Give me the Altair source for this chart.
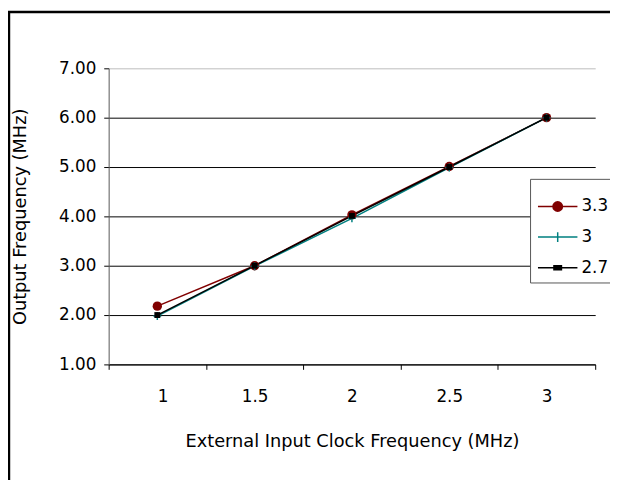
import altair as alt
import pandas as pd

# ---- data ----
x_vals = [1, 1.5, 2, 2.5, 3]
series_names = ["3.3", "3", "2.7"]
y_33 = [2.18, 3.00, 4.03, 5.01, 6.00]
y_30 = [1.98, 2.99, 3.96, 4.99, 6.00]
y_27 = [2.00, 3.00, 4.01, 5.00, 6.00]
series_colors = ["#800000", "#008080", "#000000"]
y_ticks = [1, 2, 3, 4, 5, 6, 7]
x_tick_bounds = [0.75, 1.25, 1.75, 2.25, 2.75, 3.25]

rows = []
for name, ys in zip(series_names, [y_33, y_30, y_27]):
    for xv, yv in zip(x_vals, ys):
        rows.append({"x": xv, "series": name, "y": yv})
df = pd.DataFrame(rows)

FONT = "DejaVu Sans"
FS = 17
TFS = 18
W, H = 493, 300

x_enc = alt.X(
    "x:Q",
    scale=alt.Scale(domain=[0.75, 3.25], nice=False, zero=False),
    axis=alt.Axis(
        values=x_tick_bounds,
        labelExpr="datum.value > 3.2 ? '' : '' + (datum.value + 0.25)",
        labelOffset=W / 10,
        grid=False,
        tickSize=5,
        labelPadding=28,
        labelBaseline="middle",
        labelFontSize=FS,
        labelFont=FONT,
        labelColor="black",
        domainColor="black",
        tickColor="black",
        title="External Input Clock Frequency (MHz)",
        titleFont=FONT,
        titleFontSize=TFS,
        titleFontWeight="normal",
        titleColor="black",
        titleX=W / 2,
        titleY=83,
        titleAlign="center",
        titleBaseline="alphabetic",
    ),
)
y_enc = alt.Y(
    "y:Q",
    scale=alt.Scale(domain=[1, 7], nice=False, zero=False),
    axis=alt.Axis(
        values=y_ticks,
        format=".2f",
        tickSize=5,
        labelPadding=8,
        labelFontSize=FS,
        labelFont=FONT,
        labelColor="black",
        domainColor="#555555",
        tickColor="black",
        grid=True,
        gridColor={"condition": {"test": "datum.value == 7", "value": "#bdbdbd"}, "value": "black"},
        gridOpacity=1,
        title="Output Frequency (MHz)",
        titleFont=FONT,
        titleFontSize=TFS,
        titleFontWeight="normal",
        titleColor="black",
        titleAngle=270,
        titleX=-89,
        titleY=H / 2,
        titleAlign="center",
        titleBaseline="middle",
    ),
)

base = alt.Chart(df)


def series_line(name, color):
    return base.transform_filter(alt.datum.series == name).mark_line(
        strokeWidth=1.5, color=color
    ).encode(x=x_enc, y=y_enc, order=alt.Order("x:Q"))


line_33 = series_line(series_names[0], series_colors[0])
line_30 = series_line(series_names[1], series_colors[1])
line_27 = series_line(series_names[2], series_colors[2])

pts_33 = base.transform_filter(alt.datum.series == series_names[0]).mark_point(
    shape="circle", size=90, filled=True, color=series_colors[0], opacity=1
).encode(x="x:Q", y="y:Q")
pts_30 = base.transform_filter(alt.datum.series == series_names[1]).mark_point(
    shape="M-1,0H1M0,-1V1", size=64, filled=False, color=series_colors[1], strokeWidth=1.5, opacity=1
).encode(x="x:Q", y="y:Q")
pts_27 = base.transform_filter(alt.datum.series == series_names[2]).mark_point(
    shape="square", size=36, filled=True, color=series_colors[2], opacity=1
).encode(x="x:Q", y="y:Q")


# legend glyphs (line + marker), drawn as strokes; filled parts via nested outlines
def ring(r):
    return "M%.3f,0A%.3f,%.3f,0,1,0,%.3f,0A%.3f,%.3f,0,1,0,%.3f,0" % (-r, r, r, r, r, r, -r)


legend_paths = [
    "M-1,0H1" + "".join(ring(r) for r in [0.24, 0.18, 0.12, 0.06, 0.02]),
    "M-1,0H1M0,-0.25V0.25",
    "M-1,0H1M-0.19,-0.1H0.19V0.1H-0.19ZM-0.12,-0.04H0.12V0.04H-0.12Z",
]
leg = alt.Legend(
    title=None,
    orient="none",
    legendX=427,
    legendY=112,
    padding=7,
    strokeColor="#555555",
    fillColor="white",
    symbolSize=1600,
    symbolStrokeWidth=1.5,
    symbolOpacity=1,
    labelFont=FONT,
    labelFontSize=FS,
    labelColor="black",
    labelOffset=3,
)
legend_layer = base.transform_filter("datum.x < 0").mark_point(filled=False).encode(
    x="x:Q",
    y="y:Q",
    color=alt.Color("series:N",
                    scale=alt.Scale(domain=series_names, range=series_colors), legend=leg),
    shape=alt.Shape("series:N",
                    scale=alt.Scale(domain=series_names, range=legend_paths), legend=leg),
)

frame = alt.Chart(pd.DataFrame({"a": [0]})).mark_rect(
    filled=False, stroke="black", strokeWidth=2.5
).encode(
    x=alt.value(-101), x2=alt.value(560), y=alt.value(-57), y2=alt.value(460)
)

chart = alt.layer(
    frame, line_33, line_30, line_27, pts_33, pts_30, pts_27, legend_layer
).properties(
    width=W,
    height=H,
    autosize=alt.AutoSizeParams(type="none"),
    padding={"left": 102, "top": 58, "right": 15, "bottom": 114},
    background="white",
).configure_view(stroke=None)

chart.save("out.html", embed_options={"renderer": "svg", "actions": False})
